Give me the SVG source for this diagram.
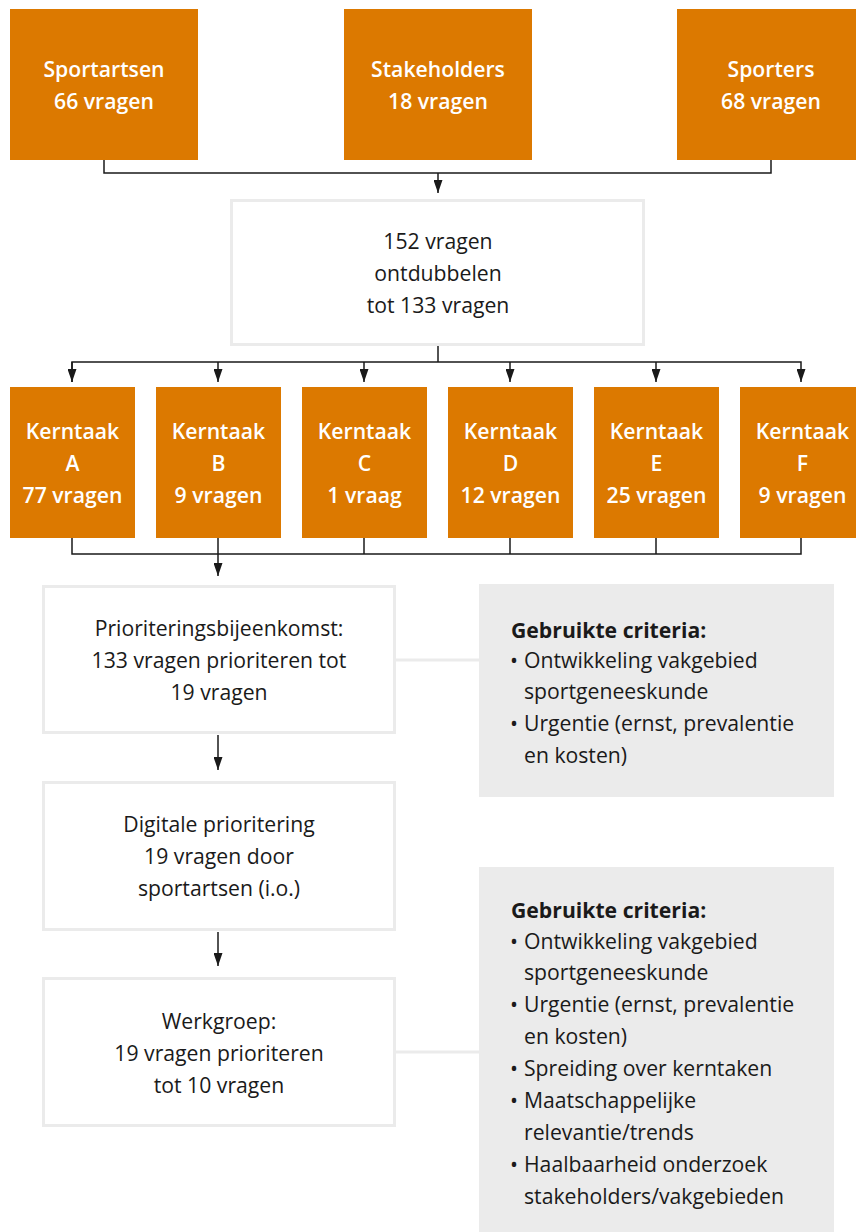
<svg xmlns="http://www.w3.org/2000/svg" width="856" height="1232" viewBox="0 0 856 1232">
<defs>
<style>
.o{fill:#dc7900}
.w{fill:#fff;stroke:#ebebeb;stroke-width:3}
.g{fill:#ebebeb}
.tw{font-family:"Open Sans","Liberation Sans",sans-serif;font-size:21.2px;font-weight:600;fill:#fff;text-anchor:middle}
.td{font-family:"Open Sans","Liberation Sans",sans-serif;font-size:21.2px;fill:#1a1a1a;text-anchor:middle}
.tl{font-family:"Open Sans","Liberation Sans",sans-serif;font-size:21.2px;fill:#1a1a1a}
.tb{font-weight:700}
.c{fill:none;stroke:#1a1a1a;stroke-width:1.5}
.cg{fill:none;stroke:#ebebeb;stroke-width:3}
</style>
<marker id="ah" markerWidth="13" markerHeight="9" refX="13" refY="4.5" orient="auto" markerUnits="userSpaceOnUse">
<path d="M0,0 L13,4.5 L0,9 Z" fill="#1a1a1a"/>
</marker>
</defs>
<rect width="856" height="1232" fill="#fff"/>
<g id="connectors">
<path class="c" d="M104,160 V173 H771 V160"/>
<path class="c" d="M438,173 V193" marker-end="url(#ah)"/>
<path class="c" d="M438,346 V362"/>
<path class="c" d="M72,382 V362 H801 V382" marker-end="url(#ah)"/>
<path class="c" d="M72,362 V382" marker-end="url(#ah)"/>
<path class="c" d="M218,362 V382" marker-end="url(#ah)"/>
<path class="c" d="M364,362 V382" marker-end="url(#ah)"/>
<path class="c" d="M510,362 V382" marker-end="url(#ah)"/>
<path class="c" d="M656,362 V382" marker-end="url(#ah)"/>
<path class="c" d="M72,538 V554 H801 V538"/>
<path class="c" d="M218,538 V554"/>
<path class="c" d="M364,538 V554"/>
<path class="c" d="M510,538 V554"/>
<path class="c" d="M656,538 V554"/>
<path class="c" d="M218,554 V576" marker-end="url(#ah)"/>
<path class="c" d="M218,735 V770" marker-end="url(#ah)"/>
<path class="c" d="M218,932 V966" marker-end="url(#ah)"/>
<path class="cg" d="M396,660 H479"/>
<path class="cg" d="M396,1052 H479"/>
</g>
<g id="sportartsen"><rect class="o" x="10" y="9" width="188" height="151"/><text class="tw" x="104" y="77">Sportartsen</text><text class="tw" x="104" y="109">66 vragen</text></g>
<g id="stakeholders"><rect class="o" x="344" y="9" width="188" height="151"/><text class="tw" x="438" y="77">Stakeholders</text><text class="tw" x="438" y="109">18 vragen</text></g>
<g id="sporters"><rect class="o" x="677" y="9" width="188" height="151"/><text class="tw" x="771" y="77">Sporters</text><text class="tw" x="771" y="109">68 vragen</text></g>
<g id="totaal"><rect class="w" x="231.5" y="200.5" width="412" height="144"/><text class="td" x="438" y="249">152 vragen</text><text class="td" x="438" y="281">ontdubbelen</text><text class="td" x="438" y="313">tot 133 vragen</text></g>
<g id="kerntaakA"><rect class="o" x="10" y="387" width="125" height="151"/><text class="tw" x="72.5" y="439">Kerntaak</text><text class="tw" x="72.5" y="471">A</text><text class="tw" x="72.5" y="503">77 vragen</text></g>
<g id="kerntaakB"><rect class="o" x="156" y="387" width="125" height="151"/><text class="tw" x="218.5" y="439">Kerntaak</text><text class="tw" x="218.5" y="471">B</text><text class="tw" x="218.5" y="503">9 vragen</text></g>
<g id="kerntaakC"><rect class="o" x="302" y="387" width="125" height="151"/><text class="tw" x="364.5" y="439">Kerntaak</text><text class="tw" x="364.5" y="471">C</text><text class="tw" x="364.5" y="503">1 vraag</text></g>
<g id="kerntaakD"><rect class="o" x="448" y="387" width="125" height="151"/><text class="tw" x="510.5" y="439">Kerntaak</text><text class="tw" x="510.5" y="471">D</text><text class="tw" x="510.5" y="503">12 vragen</text></g>
<g id="kerntaakE"><rect class="o" x="594" y="387" width="125" height="151"/><text class="tw" x="656.5" y="439">Kerntaak</text><text class="tw" x="656.5" y="471">E</text><text class="tw" x="656.5" y="503">25 vragen</text></g>
<g id="kerntaakF"><rect class="o" x="740" y="387" width="125" height="151"/><text class="tw" x="802.5" y="439">Kerntaak</text><text class="tw" x="802.5" y="471">F</text><text class="tw" x="802.5" y="503">9 vragen</text></g>
<g id="prioritering"><rect class="w" x="43.5" y="586.5" width="351" height="146"/><text class="td" x="219" y="636">Prioriteringsbijeenkomst:</text><text class="td" x="219" y="668">133 vragen prioriteren tot</text><text class="td" x="219" y="700">19 vragen</text></g>
<g id="digitaal"><rect class="w" x="43.5" y="782.5" width="351" height="147"/><text class="td" x="219" y="832">Digitale prioritering</text><text class="td" x="219" y="864">19 vragen door</text><text class="td" x="219" y="896">sportartsen (i.o.)</text></g>
<g id="werkgroep"><rect class="w" x="43.5" y="978.5" width="351" height="147"/><text class="td" x="219" y="1029">Werkgroep:</text><text class="td" x="219" y="1061">19 vragen prioriteren</text><text class="td" x="219" y="1093">tot 10 vragen</text></g>
<g id="criteria1"><rect class="g" x="479" y="584" width="355" height="213"/>
<text class="tl tb" x="511" y="638">Gebruikte criteria:</text>
<text class="tl" x="510" y="668">•</text><text class="tl" x="524" y="668">Ontwikkeling vakgebied</text>
<text class="tl" x="524" y="699">sportgeneeskunde</text>
<text class="tl" x="510" y="731">•</text><text class="tl" x="524" y="731">Urgentie (ernst, prevalentie</text>
<text class="tl" x="524" y="763">en kosten)</text>
</g>
<g id="criteria2"><rect class="g" x="479" y="867" width="355" height="365"/>
<text class="tl tb" x="511" y="918">Gebruikte criteria:</text>
<text class="tl" x="510" y="949">•</text><text class="tl" x="524" y="949">Ontwikkeling vakgebied</text>
<text class="tl" x="524" y="980">sportgeneeskunde</text>
<text class="tl" x="510" y="1012">•</text><text class="tl" x="524" y="1012">Urgentie (ernst, prevalentie</text>
<text class="tl" x="524" y="1044">en kosten)</text>
<text class="tl" x="510" y="1076">•</text><text class="tl" x="524" y="1076">Spreiding over kerntaken</text>
<text class="tl" x="510" y="1108">•</text><text class="tl" x="524" y="1108">Maatschappelijke</text>
<text class="tl" x="524" y="1140">relevantie/trends</text>
<text class="tl" x="510" y="1172">•</text><text class="tl" x="524" y="1172">Haalbaarheid onderzoek</text>
<text class="tl" x="524" y="1204">stakeholders/vakgebieden</text>
</g>
</svg>
